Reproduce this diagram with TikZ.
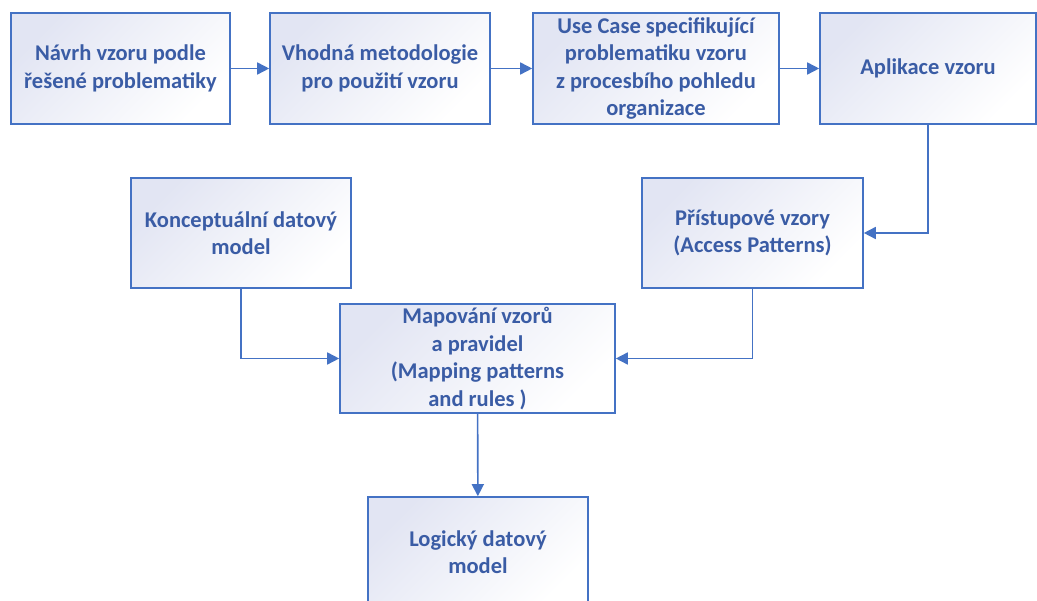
\documentclass[tikz,border=0pt]{standalone}
\usepackage{fontspec}
\setmainfont{Carlito}
\usetikzlibrary{arrows.meta}
\definecolor{edgeblue}{RGB}{68,114,196}
\definecolor{textblue}{RGB}{58,92,165}
\definecolor{tint}{RGB}{226,229,243}
\tikzset{
  boxnode/.style={draw=edgeblue, line width=1.6pt, rectangle,
    top color=tint, bottom color=white, shading angle=45,
    text=textblue, align=center, inner sep=0pt,
    font=\fontsize{22.5}{27.5}\selectfont\bfseries},
  flow/.style={draw=edgeblue, line width=1.6pt,
    -{Triangle[length=12pt,width=12pt]}}
}
\begin{document}
\begin{tikzpicture}[x=1pt,y=-1pt]
  \useasboundingbox (0,0) rectangle (1037,601);
  \begin{scope}
  \clip (0,0) rectangle (1037,601);
  % top row
  \node[boxnode, minimum width=219pt, minimum height=111pt] (b1) at (120.5,68.5)
    {Návrh vzoru podle\\řešené problematiky};
  \node[boxnode, minimum width=220pt, minimum height=111pt] (b2) at (380,68.5)
    {Vhodná metodologie\\pro použití vzoru};
  \node[boxnode, minimum width=246pt, minimum height=111pt] (b3) at (656,68.5)
    {Use Case specifikující\\problematiku vzoru\\z procesbího pohledu\\organizace};
  \node[boxnode, minimum width=216pt, minimum height=111pt] (b4) at (928,68.5)
    {Aplikace vzoru};
  % middle row
  \node[boxnode, minimum width=220pt, minimum height=110pt] (b5) at (241,233)
    {Konceptuální datový\\model};
  \node[boxnode, minimum width=221pt, minimum height=110pt] (b6) at (752.5,233)
    {Přístupové vzory\\(Access Patterns)};
  \node[boxnode, minimum width=275pt, minimum height=109pt] (b7) at (477.5,358.5)
    {Mapování vzorů\\a pravidel\\(Mapping patterns\\and rules )};
  % bottom
  \node[boxnode, minimum width=220pt, minimum height=110pt] (b8) at (478,552)
    {Logický datový\\model};
  % connectors
  \draw[flow] (b1) -- (b2);
  \draw[flow] (b2) -- (b3);
  \draw[flow] (b3) -- (b4);
  \draw[flow] (b4.south) |- (b6.east);
  \draw[flow] (b5.south) |- (b7.west);
  \draw[flow] (b6.south) |- (b7.east);
  \draw[flow] (b7) -- (b8);
  \end{scope}
\end{tikzpicture}
\end{document}
